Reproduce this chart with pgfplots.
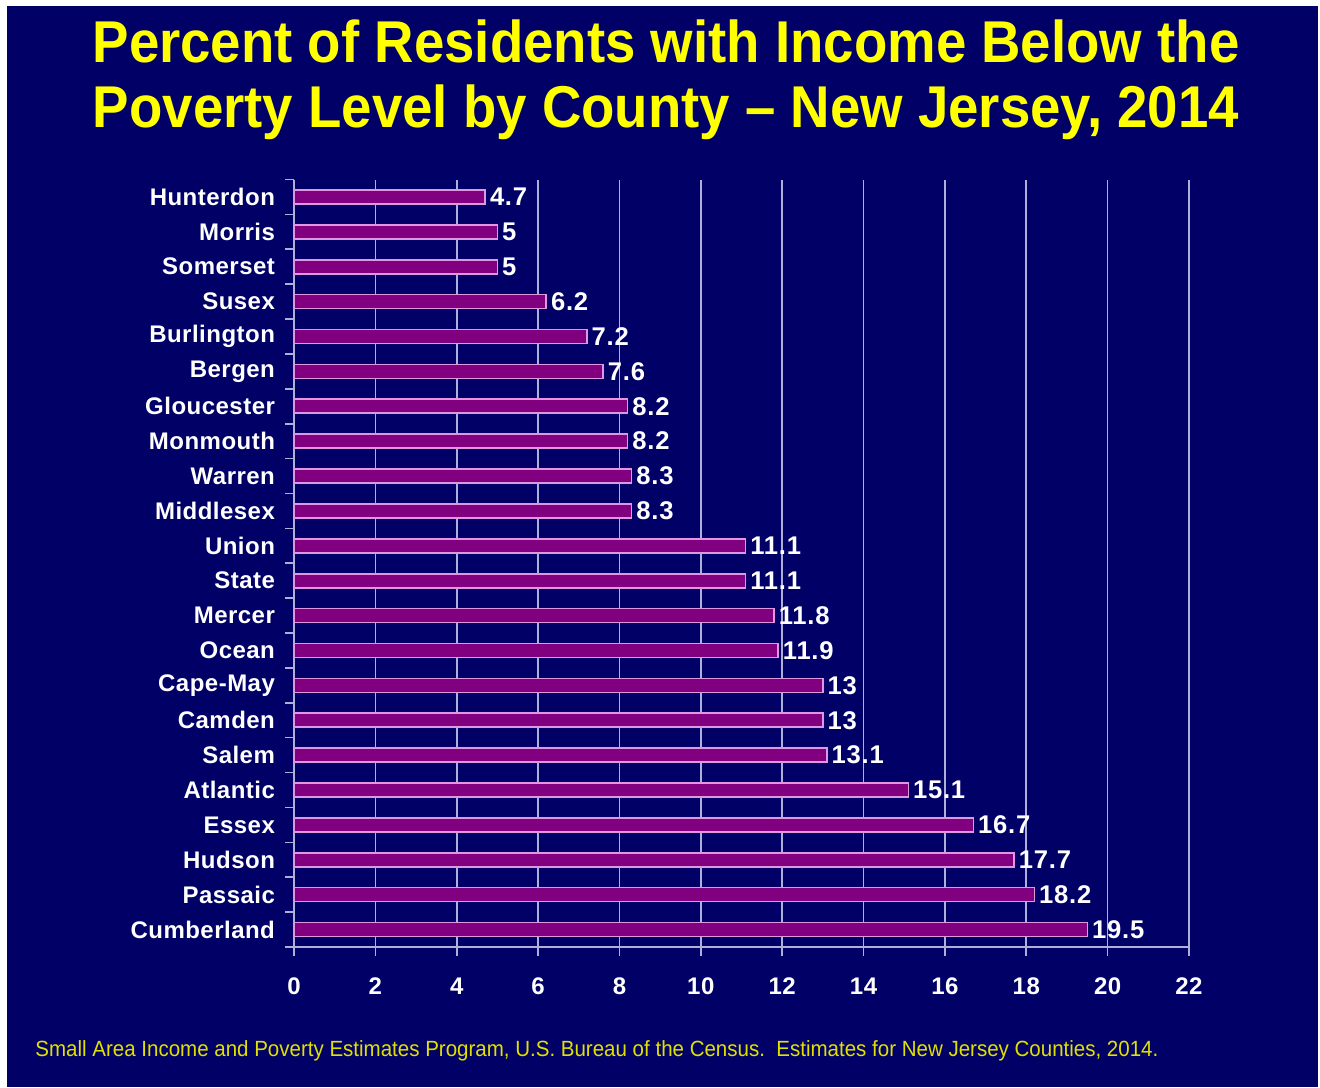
\documentclass[border=0pt]{standalone}
\usepackage{fontspec}
\setmainfont{Liberation Sans}
\usepackage{graphicx}
\usepackage{pgfplots}
\pgfplotsset{compat=1.18}
\definecolor{navy}{RGB}{0,0,102}
\definecolor{barpurple}{RGB}{128,0,128}
\definecolor{baredge}{RGB}{225,150,225}
\definecolor{gridc}{RGB}{175,175,220}
\definecolor{titleyellow}{RGB}{255,255,0}
\definecolor{footyellow}{RGB}{225,225,0}
\begin{document}
\begin{tikzpicture}
\useasboundingbox (0,0) rectangle (660pt,543.5pt);
\fill[white] (0,0) rectangle (660pt,543.5pt);
\fill[navy] (3.5pt,0) rectangle (659pt,540.5pt);
\node[anchor=base, text=titleyellow, inner sep=0pt] at (333pt,512pt) {\scalebox{1}[1.08]{\fontsize{27.3}{32}\selectfont\bfseries Percent of Residents with Income Below the}};
\node[anchor=base, text=titleyellow, inner sep=0pt] at (333pt,479.5pt) {\scalebox{1}[1.08]{\fontsize{27.3}{32}\selectfont\bfseries Poverty Level by County – New Jersey, 2014}};
\node[anchor=base west, inner sep=0pt, text=footyellow] at (17.5pt,15.5pt) {\resizebox{561.5pt}{\height}{\fontsize{11}{13}\selectfont Small Area Income and Poverty Estimates Program, U.S. Bureau of the Census.\ \ Estimates for New Jersey Counties, 2014.}};
\begin{axis}[
  at={(147pt,70pt)}, anchor=south west,
  scale only axis, width=447.5pt, height=383.75pt,
  xbar, bar width=7pt,
  xmin=0, xmax=22, ymin=-0.5, ymax=21.5, y dir=reverse,
  axis x line*=bottom, axis y line*=left,
  axis line style={gridc, line width=0.8pt},
  xtick={0,2,...,22}, minor xtick={0,2,...,22},
  ytick={0,...,21},
  yticklabels={Hunterdon,Morris,Somerset,Susex,Burlington,Bergen,Gloucester,Monmouth,Warren,Middlesex,Union,State,Mercer,Ocean,Cape-May,Camden,Salem,Atlantic,Essex,Hudson,Passaic,Cumberland},
  minor ytick={-0.5,0.5,...,21.5},
  major tick length=0pt, minor tick length=4.5pt, tick align=outside,
  minor tick style={gridc, line width=0.8pt},
  xmajorgrids, major grid style={gridc, line width=0.8pt},
  /pgf/number format/assume math mode=true,
  yticklabel style={font=\fontsize{12}{14}\selectfont\bfseries\addfontfeatures{LetterSpace=2}, text=white, xshift=-6pt},
  xticklabel style={font=\fontsize{12}{14}\selectfont\bfseries\addfontfeatures{LetterSpace=2}, text=white, yshift=-12pt},
  nodes near coords,
  every node near coord/.append style={font=\fontsize{12.8}{14}\selectfont\bfseries\addfontfeatures{LetterSpace=3}, text=white, anchor=west, inner sep=1pt, xshift=1pt},
]
\addplot[fill=barpurple, draw=baredge, line width=0.8pt] table[x=v, y=i] {
i v
0 4.7
1 5
2 5
3 6.2
4 7.2
5 7.6
6 8.2
7 8.2
8 8.3
9 8.3
10 11.1
11 11.1
12 11.8
13 11.9
14 13
15 13
16 13.1
17 15.1
18 16.7
19 17.7
20 18.2
21 19.5
};
\end{axis}
\end{tikzpicture}
\end{document}
